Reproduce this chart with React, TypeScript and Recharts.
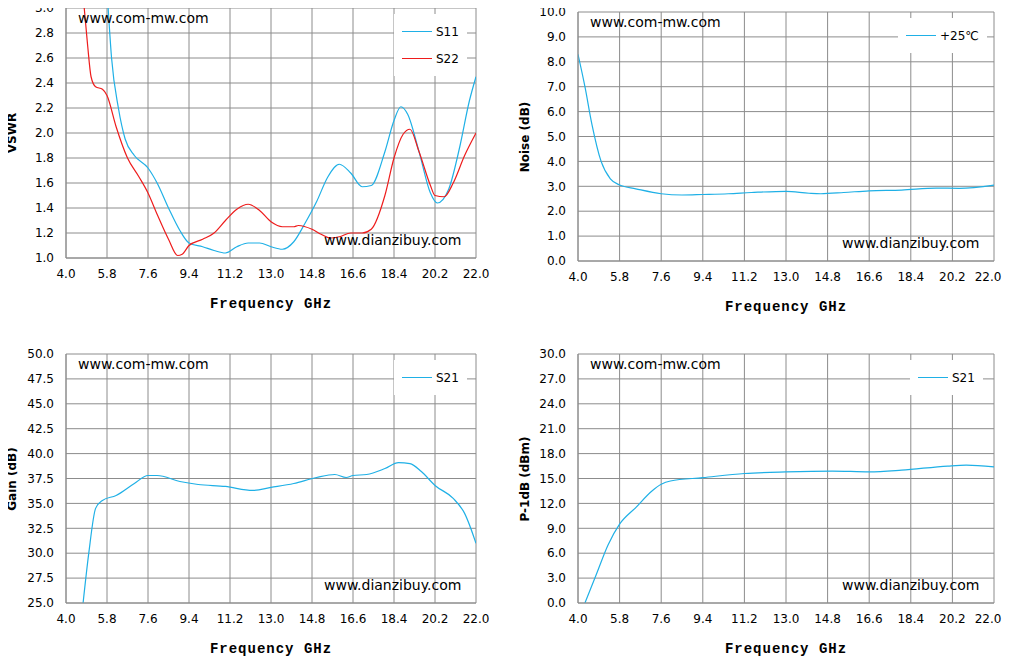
import { CartesianGrid, Line, LineChart, XAxis, YAxis } from "recharts";

const freqTicks = [4.0, 5.8, 7.6, 9.4, 11.2, 13.0, 14.8, 16.6, 18.4, 20.2, 22.0];

const s11Vswr = [
  [5.85, 3.0], [6.0, 2.6], [6.3, 2.2], [6.6, 1.95], [7.0, 1.82], [7.6, 1.72], [8.0, 1.6],
  [8.5, 1.4], [9.0, 1.22], [9.4, 1.12], [10.0, 1.09], [10.5, 1.06], [11.0, 1.04], [11.5, 1.09],
  [12.0, 1.12], [12.5, 1.12], [13.0, 1.09], [13.5, 1.07], [14.0, 1.13], [14.5, 1.28], [15.0, 1.45],
  [15.5, 1.65], [16.0, 1.75], [16.5, 1.68], [17.0, 1.57], [17.4, 1.58], [18.0, 1.85], [18.4, 2.1],
  [18.7, 2.21], [19.0, 2.15], [19.5, 1.85], [20.0, 1.52], [20.3, 1.44], [20.8, 1.55], [21.3, 1.9],
  [21.7, 2.25], [22.0, 2.45],
];
const s22Vswr = [
  [4.8, 3.0], [4.95, 2.7], [5.1, 2.45], [5.3, 2.37], [5.6, 2.35], [5.8, 2.3], [6.2, 2.05],
  [6.7, 1.8], [7.2, 1.65], [7.6, 1.52], [8.0, 1.35], [8.5, 1.15], [8.9, 1.02], [9.1, 1.03],
  [9.4, 1.1], [10.0, 1.15], [10.5, 1.2], [11.0, 1.3], [11.5, 1.39], [12.0, 1.43], [12.5, 1.38],
  [13.0, 1.29], [13.5, 1.25], [14.0, 1.25], [14.2, 1.26], [14.8, 1.23], [15.2, 1.19], [15.6, 1.16],
  [16.0, 1.17], [16.5, 1.2], [17.0, 1.2], [17.4, 1.23], [18.0, 1.5], [18.4, 1.8], [18.8, 1.99],
  [19.1, 2.03], [19.5, 1.85], [20.0, 1.58], [20.2, 1.5], [20.6, 1.49], [21.0, 1.6], [21.5, 1.82],
  [22.0, 2.0],
];
const noise25 = [
  [4.0, 8.3], [4.3, 7.0], [4.6, 5.5], [5.0, 4.0], [5.4, 3.3], [5.8, 3.05], [6.5, 2.9], [7.6, 2.7],
  [8.5, 2.65], [9.4, 2.67], [10.5, 2.7], [11.5, 2.75], [13.0, 2.8], [14.0, 2.72], [14.5, 2.7],
  [15.5, 2.75], [16.6, 2.82], [18.0, 2.85], [19.5, 2.93], [20.5, 2.92], [22.0, 3.05],
];
const gainS21 = [
  [4.75, 25], [5.0, 30], [5.3, 34.5], [5.6, 35.3], [6.2, 35.8], [7.0, 37.0], [7.6, 37.8], [8.0, 37.8],
  [9.0, 37.2], [9.8, 36.9], [11.0, 36.7], [12.2, 36.3], [13.0, 36.6], [14.0, 37.0], [15.0, 37.6],
  [15.8, 37.9], [16.3, 37.6], [16.6, 37.8], [17.2, 37.9], [18.0, 38.5], [18.6, 39.1], [19.1, 39.0],
  [19.6, 38.2], [20.2, 36.8], [21.0, 35.5], [21.5, 34.0], [22.0, 31.0],
];
const p1dbS21 = [
  [4.3, 0], [4.8, 3.5], [5.3, 7], [5.8, 9.5], [6.5, 11.5], [7.2, 13.5], [7.6, 14.3], [8.0, 14.7],
  [9.4, 15.1], [11.2, 15.6], [13.0, 15.8], [15.0, 15.9], [16.6, 15.8], [18.0, 16.0], [20.0, 16.5],
  [20.8, 16.6], [22.0, 16.4],
];

const vswrTicks = [1.0, 1.2, 1.4, 1.6, 1.8, 2.0, 2.2, 2.4, 2.6, 2.8, 3.0];
const noiseTicks = [0, 1, 2, 3, 4, 5, 6, 7, 8, 9, 10];
const gainTicks = [25, 27.5, 30, 32.5, 35, 37.5, 40, 42.5, 45, 47.5, 50];
const p1dbTicks = [0, 3, 6, 9, 12, 15, 18, 21, 24, 27, 30];

const BLUE = "#1fb0e6";
const RED = "#ee1c1c";
const tickStyle = { fontSize: 12, fill: "#000", fontFamily: "DejaVu Sans" };

type Series = { name: string; color: string; pts: number[][] };

function FreqTick(props: any) {
  const { x, y, payload, shiftLast } = props;
  const last = payload.value === 22;
  return (
    <text x={x} y={y + 12} dx={last && shiftLast ? -6 : 0} textAnchor="middle" {...tickStyle}>
      {payload.value.toFixed(1)}
    </text>
  );
}

function Panel(props: {
  plotLeft: number; plotTop: number; plotRight: number; plotBottom: number;
  yTicks: number[]; yLabel: string; labelX: number; series: Series[]; legendTop: number; legendLeft: number;
}) {
  const { plotLeft, plotTop, plotRight, plotBottom, yTicks, yLabel, series } = props;
  const width = plotRight + 17;
  const height = plotBottom + 70;
  const shiftLast = plotRight > 900;
  const data = series.map((s) => s.pts.map(([f, v]) => ({ f, v })));
  return (
    <div style={{ position: "absolute", left: 0, top: 0, width, height }}>
      <LineChart width={width} height={height} margin={{ top: plotTop, right: width - plotRight, bottom: 0, left: 0 }}>
        <CartesianGrid stroke="#8c8c8c" />
        <XAxis
          type="number" dataKey="f" domain={[4, 22]} ticks={freqTicks} allowDataOverflow interval={0}
          tick={<FreqTick shiftLast={shiftLast} />} tickLine={false}
          stroke="#8c8c8c" height={height - plotBottom}
          label={{ value: "Frequency GHz", position: "insideTop", offset: 40, style: { fontFamily: "Liberation Mono", fontWeight: "bold", fontSize: 14, fill: "#000", letterSpacing: 1 } }}
        />
        <YAxis
          type="number" domain={[yTicks[0], yTicks[yTicks.length - 1]]} ticks={yTicks} allowDataOverflow interval={0}
          tickFormatter={(v: number) => v.toFixed(1)} tick={tickStyle} tickLine={false}
          stroke="#8c8c8c" width={plotLeft} tickMargin={6}
        />
        {series.map((s, i) => (
          <Line key={s.name} data={data[i]} dataKey="v" type="monotone" stroke={s.color} strokeWidth={1.2} dot={false} isAnimationActive={false} />
        ))}
      </LineChart>
      <div style={{
        position: "absolute", left: props.labelX - 60, top: (plotTop + plotBottom) / 2 - 8, width: 120, height: 16, textAlign: "center",
        transform: "rotate(-90deg)", fontFamily: "DejaVu Sans", fontWeight: "bold", fontSize: 12, lineHeight: "16px", zIndex: 10,
      }}>{yLabel}</div>
      <div style={{ position: "absolute", left: plotLeft + 12, top: plotTop + 2, fontFamily: "DejaVu Sans", fontSize: 14 }}>www.com-mw.com</div>
      <div style={{ position: "absolute", left: plotRight - 152, top: plotBottom - 26, fontFamily: "DejaVu Sans", fontSize: 14 }}>www.dianzibuy.com</div>
      <div style={{ position: "absolute", left: props.legendLeft, top: props.legendTop, background: "#fff", padding: "4px 8px", fontFamily: "DejaVu Sans", fontSize: 12 }}>
        {series.map((s) => (
          <div key={s.name} style={{ display: "flex", alignItems: "center", height: 27 }}>
            <span style={{ display: "inline-block", width: 30, height: 0, borderTop: `1.5px solid ${s.color}`, marginRight: 4 }} />
            {s.name}
          </div>
        ))}
      </div>
    </div>
  );
}

export default function App() {
  return (
    <div style={{ position: "relative", width: 1011, height: 665, background: "#fff", margin: -8, overflow: "hidden" }}>
      <Panel plotLeft={66} plotTop={8} plotRight={476} plotBottom={258} yTicks={vswrTicks} yLabel="VSWR" labelX={12}
        series={[{ name: "S11", color: BLUE, pts: s11Vswr }, { name: "S22", color: RED, pts: s22Vswr }]} legendLeft={394} legendTop={14} />
      <Panel plotLeft={578} plotTop={12} plotRight={994} plotBottom={261} yTicks={noiseTicks} yLabel="Noise (dB)" labelX={525}
        series={[{ name: "+25℃", color: BLUE, pts: noise25 }]} legendLeft={898} legendTop={18} />
      <Panel plotLeft={66} plotTop={354} plotRight={476} plotBottom={603} yTicks={gainTicks} yLabel="Gain (dB)" labelX={12}
        series={[{ name: "S21", color: BLUE, pts: gainS21 }]} legendLeft={394} legendTop={360} />
      <Panel plotLeft={578} plotTop={354} plotRight={994} plotBottom={603} yTicks={p1dbTicks} yLabel="P-1dB (dBm)" labelX={525}
        series={[{ name: "S21", color: BLUE, pts: p1dbS21 }]} legendLeft={910} legendTop={360} />
    </div>
  );
}
